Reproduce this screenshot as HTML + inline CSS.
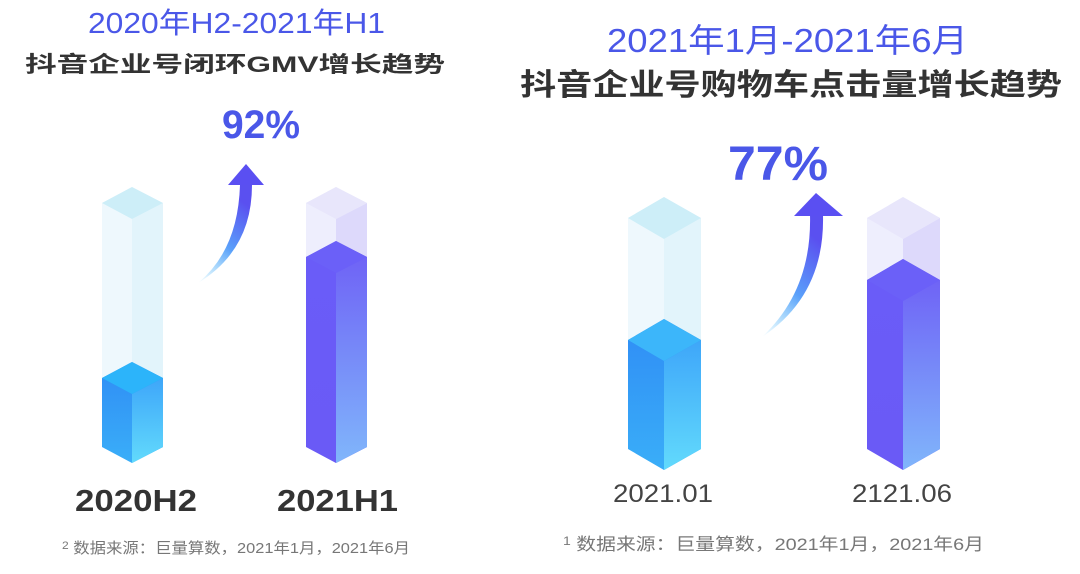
<!DOCTYPE html>
<html><head><meta charset="utf-8"><style>
html,body{margin:0;padding:0;background:#fff;width:1080px;height:574px;overflow:hidden}
text{font-family:"Liberation Sans","Noto Sans CJK SC",sans-serif}
</style></head><body>
<svg width="1080" height="574" viewBox="0 0 1080 574" xmlns="http://www.w3.org/2000/svg">
<defs>
<linearGradient id="bl" x1="0" y1="0" x2="0" y2="1"><stop offset="0" stop-color="#2f8cf5"/><stop offset="1" stop-color="#3aaef8"/></linearGradient>
<linearGradient id="br" x1="0" y1="0" x2="0" y2="1"><stop offset="0" stop-color="#3ea6f9"/><stop offset="1" stop-color="#62dafc"/></linearGradient>
<linearGradient id="pl" x1="0" y1="0" x2="0" y2="1"><stop offset="0" stop-color="#6a5cf8"/><stop offset="1" stop-color="#6a5af6"/></linearGradient>
<linearGradient id="pr" x1="0" y1="0" x2="0" y2="1"><stop offset="0" stop-color="#6f63f6"/><stop offset="1" stop-color="#80b6fb"/></linearGradient>
<linearGradient id="ar" x1="0" y1="1" x2="0.4" y2="0"><stop offset="0" stop-color="#5ec8fa" stop-opacity="0"/><stop offset="0.5" stop-color="#5aa0fa"/><stop offset="1" stop-color="#5a50f0"/></linearGradient>
</defs>

<!-- Left chart, bar 1 -->
<g>
<polygon points="102,203 132,187 163,203 163,447 132,463 102,447" fill="#eef8fd"/>
<polygon points="132,219 163,203 163,447 132,463" fill="#e2f4fb"/>
<polygon points="102,203 132,187 163,203 132,219" fill="#cdeef8"/>
<polygon points="102,378 132,362 163,378 163,447 132,463 102,447" fill="url(#bl)"/>
<polygon points="132,394 163,378 163,447 132,463" fill="url(#br)"/>
<polygon points="102,378 132,362 163,378 132,394" fill="#2cb4fa"/>
</g>
<!-- Left chart, bar 2 -->
<g>
<polygon points="306,203 336,187 367,203 367,447 336,463 306,447" fill="#eeeefd"/>
<polygon points="336,219 367,203 367,257 336,273" fill="#ddd9fb"/>
<polygon points="306,203 336,187 367,203 336,219" fill="#e8e6fb"/>
<polygon points="306,257 336,241 367,257 367,447 336,463 306,447" fill="url(#pl)"/>
<polygon points="336,273 367,257 367,447 336,463" fill="url(#pr)"/>
<polygon points="306,257 336,241 367,257 336,273" fill="#6b60f8"/>
</g>
<!-- Right chart, bar 1 -->
<g>
<polygon points="628,218 664,197 701,218 701,449 664,470 628,449" fill="#eef8fd"/>
<polygon points="664,239 701,218 701,449 664,470" fill="#e2f4fb"/>
<polygon points="628,218 664,197 701,218 664,239" fill="#cdeef8"/>
<polygon points="628,340 664,319 701,340 701,449 664,470 628,449" fill="url(#bl)"/>
<polygon points="664,361 701,340 701,449 664,470" fill="url(#br)"/>
<polygon points="628,340 664,319 701,340 664,361" fill="#3cb6fa"/>
</g>
<!-- Right chart, bar 2 -->
<g>
<polygon points="867,218 903,197 940,218 940,449 903,470 867,449" fill="#eeeefd"/>
<polygon points="903,239 940,218 940,280 903,301" fill="#ddd9fb"/>
<polygon points="867,218 903,197 940,218 903,239" fill="#e8e6fb"/>
<polygon points="867,280 903,259 940,280 940,449 903,470 867,449" fill="url(#pl)"/>
<polygon points="903,301 940,280 940,449 903,470" fill="url(#pr)"/>
<polygon points="867,280 903,259 940,280 903,301" fill="#6b60f8"/>
</g>

<!-- arrows -->
<path d="M198,283 Q238,250 240,185 L252,185 Q252,250 198,283 Z" fill="url(#ar)"/>
<polygon points="228,185 246,164 264,185" fill="#5a4ff2"/>
<path d="M762,337 Q812,290 810,215 L823,215 Q825,295 762,337 Z" fill="url(#ar)"/>
<polygon points="794,216 816,193 843,216" fill="#5a4ff2"/>

<!-- texts -->
<text x="88" y="33" font-size="29" fill="#4a57e8" textLength="297" lengthAdjust="spacingAndGlyphs">2020年H2-2021年H1</text>
<text x="25" y="72" font-size="22" font-weight="bold" fill="#333" textLength="420" lengthAdjust="spacingAndGlyphs">抖音企业号闭环GMV增长趋势</text>
<text x="222" y="138" font-size="40" font-weight="bold" fill="#4a57e8" textLength="78" lengthAdjust="spacingAndGlyphs">92%</text>
<text x="607" y="52" font-size="33" fill="#4a57e8" textLength="361" lengthAdjust="spacingAndGlyphs">2021年1月-2021年6月</text>
<text x="520" y="95" font-size="30" font-weight="bold" fill="#333" textLength="542" lengthAdjust="spacingAndGlyphs">抖音企业号购物车点击量增长趋势</text>
<text x="728" y="180" font-size="48" font-weight="bold" fill="#4a57e8" textLength="100" lengthAdjust="spacingAndGlyphs">77%</text>

<text x="75" y="511" font-size="31" font-weight="bold" fill="#333" textLength="122" lengthAdjust="spacingAndGlyphs">2020H2</text>
<text x="277" y="511" font-size="31" font-weight="bold" fill="#333" textLength="121" lengthAdjust="spacingAndGlyphs">2021H1</text>
<text x="613" y="502" font-size="25" fill="#444" textLength="100" lengthAdjust="spacingAndGlyphs">2021.01</text>
<text x="852" y="502" font-size="25" fill="#444" textLength="100" lengthAdjust="spacingAndGlyphs">2121.06</text>

<text x="62" y="553" font-size="15" fill="#777" textLength="348" lengthAdjust="spacingAndGlyphs"><tspan font-size="11" dy="-4">2</tspan><tspan dy="4"> 数据来源：巨量算数，2021年1月，2021年6月</tspan></text>
<text x="563" y="550" font-size="17" fill="#777" textLength="421" lengthAdjust="spacingAndGlyphs"><tspan font-size="12" dy="-5">1</tspan><tspan dy="5"> 数据来源：巨量算数，2021年1月，2021年6月</tspan></text>
</svg>
</body></html>
